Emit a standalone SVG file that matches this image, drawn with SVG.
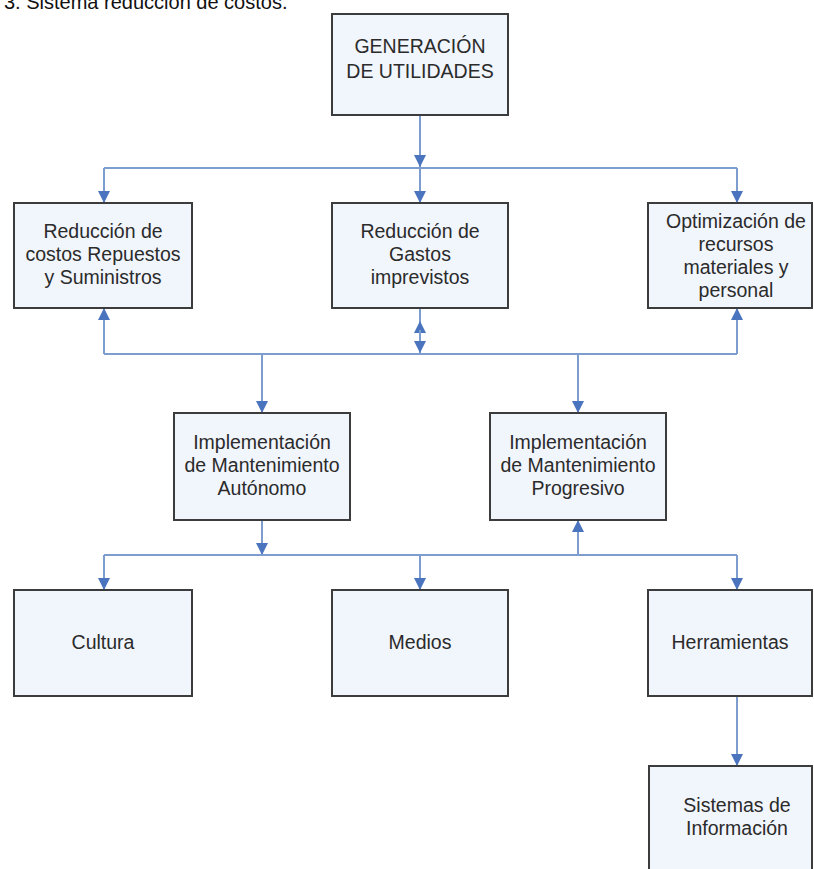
<svg xmlns="http://www.w3.org/2000/svg" width="814" height="869" viewBox="0 0 814 869">
<defs>
<marker id="ah" markerUnits="userSpaceOnUse" markerWidth="12" markerHeight="12" viewBox="0 0 10 10" refX="10" refY="5" orient="auto">
<path d="M0,0 L10,5 L0,10 z" fill="#4a74bd"/>
</marker>
<style>
.box{fill:#f1f5fc;stroke:#3c3c3c;stroke-width:2}
.t{font-family:"Liberation Sans",Arial,sans-serif;font-size:19.5px;fill:#2b2b2b;text-anchor:middle}
.c{fill:none;stroke:#7d9dcf;stroke-width:2}
.a{fill:none;stroke:#7d9dcf;stroke-width:2;marker-end:url(#ah)}
.cap{font-family:"Liberation Sans",Arial,sans-serif;font-size:20px;fill:#111}
</style>
</defs>
<rect width="814" height="869" fill="#ffffff"/>
<text class="cap" x="4" y="9">3. Sistema reducción de costos.</text>
<g id="connectors">
<path class="a" d="M420,115 V167"/>
<path class="c" d="M104,168 H737"/>
<path class="a" d="M420,168 V203"/>
<path class="a" d="M104,168 V203"/>
<path class="a" d="M737,168 V203"/>
<path class="c" d="M104,354 H737"/>
<path class="a" d="M104,354 V308"/>
<path class="a" d="M737,354 V308"/>
<path class="c" d="M420,308 V354"/>
<path class="a" d="M420,340 V321"/>
<path class="a" d="M420,330 V353"/>
<path class="a" d="M262,354 V413"/>
<path class="a" d="M578,354 V413"/>
<path class="a" d="M262,520 V555"/>
<path class="a" d="M578,555 V520"/>
<path class="c" d="M104,555 H737"/>
<path class="a" d="M104,555 V590"/>
<path class="a" d="M420,555 V590"/>
<path class="a" d="M737,555 V590"/>
<path class="a" d="M737,696 V766"/>
</g>
<g id="n_generacion">
<rect class="box" x="332" y="14" width="176" height="101"/>
<text class="t" x="420" y="53">GENERACIÓN</text>
<text class="t" x="420" y="78">DE UTILIDADES</text>
</g>
<g id="n_repuestos">
<rect class="box" x="14" y="203" width="178" height="105"/>
<text class="t" x="103" y="238">Reducción de</text>
<text class="t" x="103" y="261">costos Repuestos</text>
<text class="t" x="103" y="284">y Suministros</text>
</g>
<g id="n_gastos">
<rect class="box" x="332" y="203" width="176" height="105"/>
<text class="t" x="420" y="238">Reducción de</text>
<text class="t" x="420" y="261">Gastos</text>
<text class="t" x="420" y="284">imprevistos</text>
</g>
<g id="n_optimizacion">
<rect class="box" x="648" y="203" width="164" height="105"/>
<text class="t" x="736" y="228">Optimización de</text>
<text class="t" x="736" y="251">recursos</text>
<text class="t" x="736" y="274">materiales y</text>
<text class="t" x="736" y="297">personal</text>
</g>
<g id="n_autonomo">
<rect class="box" x="174" y="413" width="176" height="107"/>
<text class="t" x="262" y="449">Implementación</text>
<text class="t" x="262" y="472">de Mantenimiento</text>
<text class="t" x="262" y="495">Autónomo</text>
</g>
<g id="n_progresivo">
<rect class="box" x="490" y="413" width="176" height="107"/>
<text class="t" x="578" y="449">Implementación</text>
<text class="t" x="578" y="472">de Mantenimiento</text>
<text class="t" x="578" y="495">Progresivo</text>
</g>
<g id="n_cultura">
<rect class="box" x="14" y="590" width="178" height="106"/>
<text class="t" x="103" y="649">Cultura</text>
</g>
<g id="n_medios">
<rect class="box" x="332" y="590" width="176" height="106"/>
<text class="t" x="420" y="649">Medios</text>
</g>
<g id="n_herramientas">
<rect class="box" x="648" y="590" width="164" height="106"/>
<text class="t" x="730" y="649">Herramientas</text>
</g>
<g id="n_sistemas">
<rect class="box" x="649" y="766" width="163" height="110"/>
<text class="t" x="737" y="812">Sistemas de</text>
<text class="t" x="737" y="835">Información</text>
</g>
</svg>
